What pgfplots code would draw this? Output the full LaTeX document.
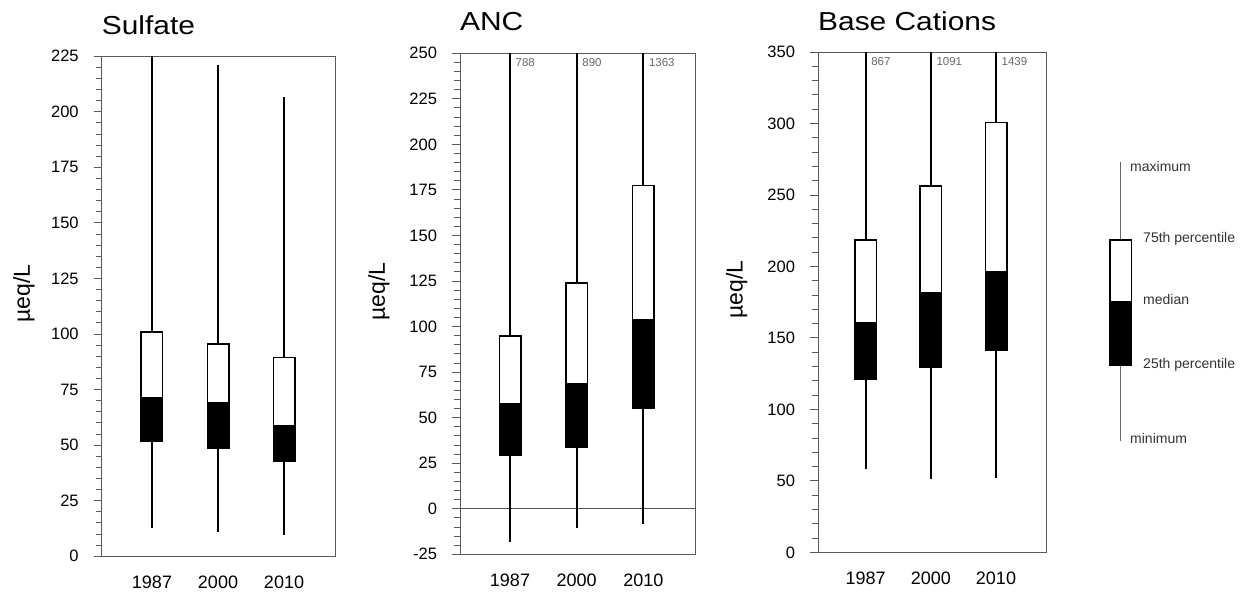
\documentclass[border=0pt]{standalone}
\usepackage{fontspec}
\setmainfont{Liberation Sans}
\newfontfamily\titlefont{Liberation Sans}[FakeStretch=1.15]
\usepackage{pgfplots}
\pgfplotsset{compat=1.18}

% one box: position, min, q1, median, q3, max (whisker cut at the top of the axis)
\newcommand{\bw}[6]{%
  \addplot[draw=black, line width=1.8pt] coordinates {(#1,#2) (#1,#6)};
  \addplot[draw=black, line width=23pt, shorten <=-0.8pt, shorten >=-0.8pt] coordinates {(#1,#3) (#1,#5)};
  \addplot[draw=white, line width=19.8pt, shorten >=0.8pt] coordinates {(#1,#4) (#1,#5)};
}

\tikzset{cnt/.style={anchor=north west, inner sep=0pt, xshift=5.5pt, yshift=-5pt,
    font=\fontsize{11.5}{13}\selectfont, text=black!60},
  keytext/.style={anchor=west, inner sep=0pt, font=\fontsize{14}{16}\selectfont, text=black!80}}

\pgfplotsset{
  panel/.style={
    scale only axis, anchor=south west,
    axis line style={draw=black!65, line width=0.9pt},
    xtick={1,2,3}, xticklabels={1987,2000,2010},
    tick align=outside, ytick pos=left, xtick pos=bottom,
    xtick style={draw=none},
    tick style={draw=black!65, line width=0.9pt},
    major tick length=8pt, minor tick length=6pt,
    minor y tick num=4,
    /pgf/number format/assume math mode=true,
    yticklabel style={font=\fontsize{16.5}{18}\selectfont, xshift=-11.5pt},
    xticklabel style={font=\fontsize{18}{20}\selectfont, yshift=-8pt},
    title style={at={(axis description cs:0,1)}, anchor=base west, inner sep=0pt,
      yshift=17pt, font=\titlefont\fontsize{26}{30}\selectfont},
    ylabel style={at={(axis description cs:0,0.525)}, anchor=center,
      font=\fontsize{23}{26}\selectfont},
  },
}

\begin{document}
\begin{tikzpicture}
\useasboundingbox (0,0) rectangle (1254pt,594pt);

% Sulfate
\begin{axis}[panel, at={(101.7pt,37.8pt)}, width=234pt, height=500pt,
  xmin=0.238, xmax=3.783, ymin=0, ymax=225, ytick={0,25,...,225},
  title={Sulfate}, title style={yshift=-1.5pt}, ylabel={µeq/L}, ylabel style={yshift=77.7pt}]
\bw{1}{12.8}{51.6}{71.8}{101}{225}
\bw{2}{10.8}{48.7}{69.6}{95.5}{221}
\bw{3}{9.7}{42.7}{59}{89.5}{206.6}
\end{axis}

% ANC (maxima 788, 890, 1363)
\begin{axis}[panel, at={(460pt,39.7pt)}, width=235pt, height=501pt,
  xmin=0.25, xmax=3.775, ymin=-25, ymax=250, ytick={-25,0,25,50,75,100,125,150,175,200,225,250},
  extra y ticks={0}, extra y tick labels={},
  extra y tick style={grid=major, major grid style={draw=black!65, line width=0.9pt}},
  title={ANC}, ylabel={µeq/L}, ylabel style={yshift=81pt}]
\bw{1}{-18.3}{29.2}{57.9}{94.8}{250}
\bw{2}{-10.4}{34}{68.75}{124}{250}
\bw{3}{-8.3}{55}{104.2}{177.5}{250}
\node[cnt] at (axis cs:1,250) {788};
\node[cnt] at (axis cs:2,250) {890};
\node[cnt] at (axis cs:3,250) {1363};
\end{axis}

% Base cations (maxima 867, 1091, 1439)
\begin{axis}[panel, at={(818pt,41.6pt)}, width=228pt, height=500.4pt,
  xmin=0.27, xmax=3.767, ymin=0, ymax=350, ytick={0,50,...,350},
  title={Base Cations}, title style={yshift=-1.5pt}, ylabel={µeq/L}, ylabel style={yshift=81.3pt}]
\bw{1}{58.1}{120.8}{160.9}{218.5}{350}
\bw{2}{51.2}{129.3}{181.9}{256.2}{350}
\bw{3}{52.3}{141.2}{197}{300.8}{350}
\node[cnt] at (axis cs:1,350) {867};
\node[cnt] at (axis cs:2,350) {1091};
\node[cnt] at (axis cs:3,350) {1439};
\end{axis}

% key
\begin{axis}[at={(0pt,0pt)}, anchor=south west, scale only axis, width=1254pt, height=594pt,
  xmin=0, xmax=1254, ymin=0, ymax=594, hide axis, clip=false]
\addplot[draw=black!60, line width=1pt] coordinates {(1120.5,152.5) (1120.5,431.5)};
\addplot[draw=black, line width=23pt, shorten <=-0.75pt, shorten >=-0.75pt] coordinates {(1120.5,228.8) (1120.5,354)};
\addplot[draw=white, line width=20pt, shorten >=0.75pt] coordinates {(1120.5,293.3) (1120.5,354)};
\node[keytext] at (axis cs:1130,427.7) {maximum};
\node[keytext] at (axis cs:1143,354.8) {75th percentile};
\node[keytext] at (axis cs:1143,294) {median};
\node[keytext] at (axis cs:1143,229.5) {25th percentile};
\node[keytext] at (axis cs:1130,155.5) {minimum};
\end{axis}
\end{tikzpicture}
\end{document}
